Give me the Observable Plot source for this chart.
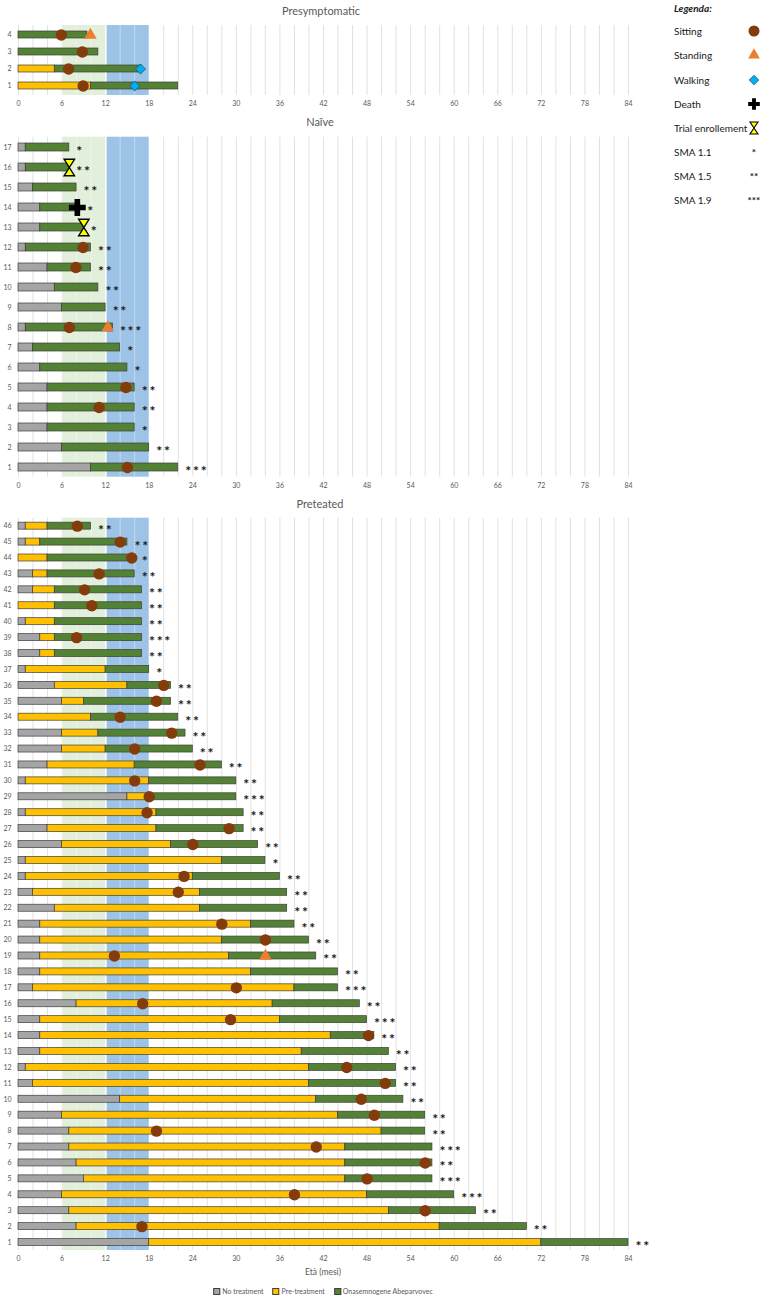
<!DOCTYPE html>
<html><head><meta charset="utf-8">
<script src="https://cdn.jsdelivr.net/npm/d3@7"></script>
<script src="https://cdn.jsdelivr.net/npm/@observablehq/plot@0.6"></script>
<style>
body{margin:0;background:#fff;font-family:Lato,"Open Sans",sans-serif;}
#root{position:relative;width:764px;height:1300px;overflow:hidden;background:#fff;}
.pnl{position:absolute;left:0;}
.ttl{position:absolute;font-size:11px;color:#595959;transform:translate(-50%,-50%);white-space:nowrap;}
.lg{position:absolute;font-size:10px;color:#1a1a1a;transform:translateY(-50%);white-space:nowrap;}
</style></head><body><div id="root"></div>
<script>
// ---------- DATA ----------
const xTicks = [0,6,12,18,24,30,36,42,48,54,60,66,72,78,84];
const gridTicks = [0,2,4,6,8,10,12,14,16,18,20,22,24,26,28,30,32,34,36,38,40,42,44,46,48,50,52,54,56,58,60,62,64,66,68,70,72,74,76,78,80,82,84];
const bandFrom = [6, 12.2];
const bandTo = [12, 18];
const phases = ["No treatment","Pre-treatment","Onasemnogene Abeparvovec"];

// Presymptomatic
const preIds = ["4","3","2","1"];
const preNoTx = [0,0,0,0];
const prePreTx = [0,0,5,10];
const preEnd = [9.5,11,17,22];
const preSitting = [5.9,8.8,6.9,8.9];
const preStanding = [9.9,null,null,null];
const preWalking = [null,null,16.8,16];
const preDeath = [null,null,null,null];
const preTrial = [null,null,null,null];
const preSma = [null,null,null,null];

// Naïve
const naiIds = ["17","16","15","14","13","12","11","10","9","8","7","6","5","4","3","2","1"];
const naiNoTx = [1,1,2,3,3,1,4,5,6,1,2,3,4,4,4,6,10];
const naiPreTx = [1,1,2,3,3,1,4,5,6,1,2,3,4,4,4,6,10];
const naiEnd = [7,7,8,8.5,9,10,10,11,12,13,14,15,16,16,16,18,22];
const naiSitting = [null,null,null,null,null,8.9,7.9,null,null,7,null,null,14.8,11.1,null,null,15];
const naiStanding = [null,null,null,null,null,null,null,null,null,12.3,null,null,null,null,null,null,null];
const naiWalking = [null,null,null,null,null,null,null,null,null,null,null,null,null,null,null,null,null];
const naiDeath = [null,null,null,8.1,null,null,null,null,null,null,null,null,null,null,null,null,null];
const naiTrial = [null,7,null,null,9,null,null,null,null,null,null,null,null,null,null,null,null];
const naiSma = ["*","**","**","*","*","**","**","**","**","***","*","*","**","**","*","**","***"];

// Preteated
const ptIds = ["46","45","44","43","42","41","40","39","38","37","36","35","34","33","32","31","30","29","28","27","26","25","24","23","22","21","20","19","18","17","16","15","14","13","12","11","10","9","8","7","6","5","4","3","2","1"];
const ptNoTx = [1,1,0,2,2,0,1,3,3,1,5,6,0,6,6,4,1,15,1,4,6,1,1,2,5,3,3,3,3,2,8,3,3,3,1,2,14,6,7,7,8,9,6,7,8,18];
const ptPreTx = [4,3,4,4,5,5,5,5,5,12,15,9,10,11,12,16,18,18,19,19,21,28,24,25,25,32,28,29,32,38,35,36,43,39,40,40,41,44,50,45,45,45,48,51,58,72];
const ptEnd = [10,15,16,16,17,17,17,17,17,18,21,21,22,23,24,28,30,30,31,31,33,34,36,37,37,38,40,41,44,44,47,48,49,51,52,52,53,56,56,57,57,57,60,63,70,84];
const ptSitting = [8.1,14,15.6,11.1,9.1,10.1,null,8,null,null,20,19,14,21.1,16,25,16,18,17.7,29,24,null,22.8,22,null,28,34,13.2,null,30,17.1,29.2,48.2,null,45.2,50.5,47.2,49,19,41,56,48,38,56,17,null];
const ptStanding = [null,null,null,null,null,null,null,null,null,null,null,null,null,null,null,null,null,null,null,null,null,null,null,null,null,null,null,34,null,null,null,null,null,null,null,null,null,null,null,null,null,null,null,null,null,null];
const ptWalking = ptIds.map(() => null);
const ptDeath = ptIds.map(() => null);
const ptTrial = ptIds.map(() => null);
const ptSma = ["**","**","*","**","**","**","**","***","**","*","**","**","**","**","**","**","**","***","**","**","**","*","**","**","**","**","**","**","**","***","**","***","**","**","**","**","**","**","**","***","**","***","***","**","**","**"];

// ---------- STYLE ----------
const phaseColors = ["#a5a5a5","#ffc000","#548235"];
const FONT = "Lato, 'Open Sans', sans-serif";
const hourglass = {draw(ctx){ const w=5.2,h=8.2; ctx.moveTo(-w,-h); ctx.lineTo(w,-h); ctx.lineTo(0,0); ctx.lineTo(w,h); ctx.lineTo(-w,h); ctx.lineTo(0,0); ctx.closePath(); }};

function buildPanel(p){
  const segs = [];
  p.ids.forEach((id,i)=>{
    if (p.noTx[i] > 0) segs.push({id, x1:0, x2:p.noTx[i], phase:phases[0]});
    if (p.preTx[i] > p.noTx[i]) segs.push({id, x1:p.noTx[i], x2:p.preTx[i], phase:phases[1]});
    segs.push({id, x1:p.preTx[i], x2:p.end[i], phase:phases[2]});
  });
  const ms = (arr) => p.ids.map((id,i)=>({id, x:arr[i]})).filter(d=>d.x!=null);
  const sma = p.ids.map((id,i)=>({id, x:p.end[i], t:p.sma[i]})).filter(d=>d.t);
  const bands = bandFrom.map((f,i)=>({from:f, to:bandTo[i]}));
  const gridOut = gridTicks.filter(t => t < 6 || t > 18);
  const gridIn = gridTicks.filter(t => t >= 6 && t < 18);
  return Plot.plot({
    width:764, height:p.height, marginLeft:18, marginRight:136,
    marginTop:p.mt, marginBottom:p.mb,
    style:{background:"transparent", fontFamily:FONT, overflow:"visible"},
    x:{domain:[0,84]},
    y:{type:"band", domain:p.ids, paddingInner:p.pi, paddingOuter:p.pi/2},
    color:{domain:phases, range:phaseColors},
    marks:[
      Plot.ruleX(gridOut, {stroke:"#d9d9d9", strokeWidth:0.8}),
      Plot.rect([bands[0]], {x1:"from", x2:"to", fill:"#e2efda"}),
      Plot.rect([bands[1]], {x1:"from", x2:"to", fill:"#9dc3e6"}),
      Plot.ruleX(gridIn, {stroke:"#ffffff", strokeOpacity:0.45, strokeWidth:0.9}),
      Plot.barX(segs, {x1:"x1", x2:"x2", y:"id", fill:"phase", stroke:"#3d3d3d", strokeWidth:0.7}),
      Plot.dot(ms(p.sitting), {x:"x", y:"id", symbol:"circle", r:5.7, fill:"#843c0c"}),
      Plot.dot(ms(p.standing), {x:"x", y:"id", symbol:"triangle", r:4.7, fill:"#ed7d31"}),
      Plot.dot(ms(p.walking), {x:"x", y:"id", symbol:"diamond2", r:4.5, fill:"#00b0f0", stroke:"#1f4e79", strokeWidth:0.8}),
      Plot.dot(ms(p.death), {x:"x", y:"id", symbol:"cross", r:7.1, fill:"#000"}),
      Plot.dot(ms(p.trial), {x:"x", y:"id", symbol:hourglass, r:5, fill:"#ffff00", stroke:"#000", strokeWidth:1.4}),
      Plot.text(sma, {x:"x", y:"id", text:d => d.t.split("").join("\u2009"), dx:7, dy:4, textAnchor:"start", fontSize:14, fontWeight:"bold", fill:"#1a1a1a"}),
      Plot.axisY({tickSize:0, tickPadding:7, fontSize:7, fill:"#595959", label:null}),
      Plot.axisX(xTicks, {tickSize:0, tickPadding:6, fontSize:7, fill:"#595959", label:null})
    ]
  });
}

const root = document.getElementById("root");
function place(el, top){ el.classList.add("pnl"); el.style.top = top+"px"; root.appendChild(el); }

place(buildPanel({ids:preIds, noTx:preNoTx, preTx:prePreTx, end:preEnd, sitting:preSitting, standing:preStanding, walking:preWalking, death:preDeath, trial:preTrial, sma:preSma, height:112, mt:25, mb:17, pi:0.6}), 0);
place(buildPanel({ids:naiIds, noTx:naiNoTx, preTx:naiPreTx, end:naiEnd, sitting:naiSitting, standing:naiStanding, walking:naiWalking, death:naiDeath, trial:naiTrial, sma:naiSma, height:380, mt:24.7, mb:15.3, pi:0.6}), 112);
place(buildPanel({ids:ptIds, noTx:ptNoTx, preTx:ptPreTx, end:ptEnd, sitting:ptSitting, standing:ptStanding, walking:ptWalking, death:ptDeath, trial:ptTrial, sma:ptSma, height:776, mt:25.7, mb:18, pi:0.56}), 492);

function addTitle(txt, x, y, size){ const d=document.createElement("div"); d.className="ttl"; d.textContent=txt; d.style.left=x+"px"; d.style.top=y+"px"; if(size) d.style.fontSize=size+"px"; root.appendChild(d); }
addTitle("Presymptomatic", 321, 10);
addTitle("Naïve", 320, 121);
addTitle("Preteated", 320, 503);
addTitle("Età (mesi)", 323, 1272, 8.5);

// bottom legend
const bl = document.createElement("div");
bl.style.cssText = "position:absolute;left:323px;top:1291px;transform:translate(-50%,-50%);font-size:7px;color:#595959;white-space:nowrap;display:flex;gap:9px;align-items:center;";
phases.forEach((ph,i)=>{
  const s=document.createElement("span"); s.style.cssText="display:flex;align-items:center;gap:2px;";
  const sw=document.createElement("span"); sw.style.cssText=`display:inline-block;width:5px;height:5px;background:${phaseColors[i]};border:0.5px solid #404040;`;
  s.appendChild(sw); s.appendChild(document.createTextNode(ph)); bl.appendChild(s);
});
root.appendChild(bl);

// right legend
const legItems = ["Sitting","Standing","Walking","Death","Trial enrollement","SMA 1.1","SMA 1.5","SMA 1.9"];
const legY = [31,55,80,104,128,152,176,200];
const lh = document.createElement("div"); lh.className="lg"; lh.style.left="674px"; lh.style.top="8px"; lh.style.fontWeight="bold"; lh.style.fontStyle="italic"; lh.textContent="Legenda:"; root.appendChild(lh);
legItems.forEach((t,i)=>{ const d=document.createElement("div"); d.className="lg"; d.style.left="674px"; d.style.top=legY[i]+"px"; d.textContent=t; root.appendChild(d); });
const svg = d3.select(root).append("svg").attr("width",40).attr("height",215).style("position","absolute").style("left","734px").style("top","0px");
const cx = 20;
svg.append("path").attr("d", d3.symbol(d3.symbolCircle, 95)()).attr("transform",`translate(${cx},${legY[0]})`).attr("fill","#843c0c");
svg.append("path").attr("d", d3.symbol(d3.symbolTriangle, 60)()).attr("transform",`translate(${cx},${legY[1]})`).attr("fill","#ed7d31");
svg.append("path").attr("d", d3.symbol(d3.symbolDiamond2, 60)()).attr("transform",`translate(${cx},${legY[2]})`).attr("fill","#00b0f0").attr("stroke","#1f4e79").attr("stroke-width",0.7);
svg.append("path").attr("d", d3.symbol(d3.symbolCross, 75)()).attr("transform",`translate(${cx},${legY[3]})`).attr("fill","#000");
svg.append("path").attr("d", "M-4,-6L4,-6L0,0L4,6L-4,6L0,0Z").attr("transform",`translate(${cx},${legY[4]})`).attr("fill","#ffff00").attr("stroke","#000").attr("stroke-width",1.1);
["*","**","***"].forEach((t,i)=>svg.append("text").attr("x",cx).attr("y",legY[5+i]+4).attr("text-anchor","middle").attr("font-size",10).attr("font-family",FONT).attr("font-weight","bold").attr("fill","#222").text(t));
</script></body></html>
